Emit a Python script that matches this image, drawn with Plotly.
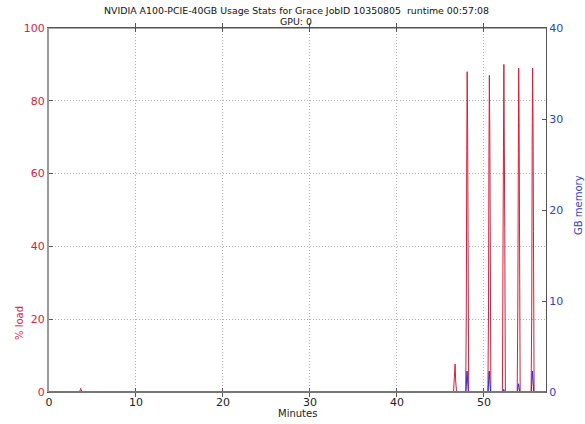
import plotly.graph_objects as go

# GPU utilisation samples (minutes since job start, percent load)
load_minutes = [0.0, 3.50, 3.60, 3.65, 3.70, 3.80,
                46.50, 46.60, 46.68, 46.75, 46.85,
                47.90, 47.97, 48.02, 48.07, 48.12, 48.17, 48.24,
                50.45, 50.52, 50.57, 50.62, 50.67, 50.72, 50.79,
                52.12, 52.19, 52.24, 52.29, 52.34, 52.39, 52.46,
                53.82, 53.89, 53.94, 53.99, 54.04, 54.09, 54.16,
                55.42, 55.49, 55.54, 55.59, 55.64, 55.69, 55.76,
                57.13]
load_pct = [0, 0, 0.6, 1.0, 0.6, 0,
            0, 4.0, 7.7, 3.0, 0,
            0, 22, 66, 88, 73, 44, 0,
            0, 22, 65, 87, 72, 44, 0,
            0, 23, 67, 90, 75, 45, 0,
            0, 22, 66, 89, 74, 44, 0,
            0, 22, 66, 89, 74, 44, 0,
            0]

# GPU memory in use (minutes since job start, GB)
mem_minutes = [0.0,
               47.92, 47.99, 48.05, 48.11, 48.20,
               50.47, 50.54, 50.60, 50.66, 50.75,
               52.14, 52.21, 52.27, 52.33, 52.42,
               53.84, 53.91, 53.97, 54.03, 54.12,
               55.44, 55.51, 55.57, 55.63, 55.72,
               57.13]
mem_gb = [0,
          0, 1.2, 2.3, 1.4, 0,
          0, 1.2, 2.3, 1.4, 0,
          0, 0.1, 0.3, 0.1, 0,
          0, 0.4, 0.9, 0.5, 0,
          0, 1.2, 2.3, 1.4, 0,
          0]

x_ticks = [0, 10, 20, 30, 40, 50]
load_ticks = [0, 20, 40, 60, 80, 100]
mem_ticks = [0, 10, 20, 30, 40]

title_lines = ["NVIDIA A100-PCIE-40GB Usage Stats for Grace JobID 10350805  runtime 00:57:08",
               "GPU: 0"]

RED = "#d81e3c"
BLUE = "#2a2ad6"
LABEL_RED = "#e0203a"
LABEL_BLUE = "#3040d0"
FRAME = "#555555"
GRID = "#b0b0b0"
FONT = "DejaVu Sans"

fig = go.Figure()
fig.add_trace(go.Scatter(x=load_minutes, y=load_pct, mode="lines",
                         line=dict(color=RED, width=1), name="% load",
                         showlegend=False, hoverinfo="skip"))
fig.add_trace(go.Scatter(x=mem_minutes, y=mem_gb, mode="lines", yaxis="y2",
                         line=dict(color=BLUE, width=1), name="GB memory",
                         showlegend=False, hoverinfo="skip"))

fig.update_layout(
    width=585, height=424,
    margin=dict(l=49, r=39, t=28, b=32),
    paper_bgcolor="white", plot_bgcolor="white",
    font=dict(family=FONT, size=11, color="#222222"),
    xaxis=dict(range=[0, 57.13], tickvals=x_ticks, ticks="inside", ticklen=4,
               tickcolor=FRAME, showline=True, linecolor=FRAME, linewidth=1,
               mirror="allticks", showgrid=True, gridcolor=GRID,
               griddash="1px,2px", gridwidth=1, zeroline=False, automargin=False,
               tickfont=dict(size=11, color="#222222")),
    yaxis=dict(range=[0, 100], tickvals=load_ticks, ticks="inside", ticklen=4,
               tickcolor=FRAME, showline=True, linecolor="#9a9a9a", linewidth=2,
               showgrid=True, gridcolor=GRID, griddash="1px,2px", gridwidth=1,
               zeroline=False, automargin=False,
               tickfont=dict(size=11, color=LABEL_RED)),
    yaxis2=dict(range=[0, 40], tickvals=mem_ticks, overlaying="y", side="right",
                ticks="inside", ticklen=4, tickcolor=FRAME, showline=True,
                linecolor=FRAME, linewidth=1, showgrid=False, zeroline=False,
                automargin=False,
                tickfont=dict(size=11, color=LABEL_BLUE)),
)

# two-line heading above the frame
for text, shift in zip(title_lines, [17.5, 6.5]):
    fig.add_annotation(text=text, xref="paper", yref="paper", x=0.497, y=1,
                       xanchor="center", yanchor="middle", yshift=shift,
                       showarrow=False,
                       font=dict(family=FONT, size=9.4, color="#111111"))

# axis titles
fig.add_annotation(text="Minutes", xref="paper", yref="paper", x=0.499, y=0,
                   xanchor="center", yanchor="middle", yshift=-21, showarrow=False,
                   font=dict(family=FONT, size=10, color="#222222"))
fig.add_annotation(text="% load", xref="paper", yref="paper", x=0, y=(392 - 323) / 364,
                   xanchor="center", yanchor="middle", xshift=-30, textangle=-90,
                   showarrow=False, font=dict(family=FONT, size=10, color=LABEL_RED))
fig.add_annotation(text="GB memory", xref="paper", yref="paper", x=1, y=(392 - 205) / 364,
                   xanchor="center", yanchor="middle", xshift=32, textangle=-90,
                   showarrow=False, font=dict(family=FONT, size=10, color=LABEL_BLUE))

# top frame line to close the box, and the bottom frame drawn over the baseline
fig.add_shape(type="line", xref="paper", yref="paper", x0=0, x1=1, y0=1, y1=1,
              line=dict(color=FRAME, width=1))
fig.add_shape(type="line", xref="paper", yref="paper", x0=0, x1=1, y0=0, y1=0,
              line=dict(color="#777777", width=2), layer="above")

fig.write_html("out.html")
